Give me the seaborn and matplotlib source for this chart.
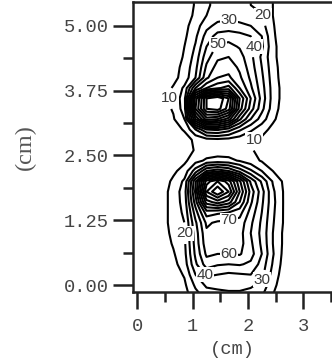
import numpy as np
import matplotlib
matplotlib.use("Agg")
import matplotlib.pyplot as plt
from matplotlib.ticker import MultipleLocator, FixedLocator
import seaborn as sns

# Measurement grid (cm)
x_cm = [0.45, 0.65, 0.85, 1.05, 1.25, 1.45, 1.65, 1.85, 2.05, 2.25, 2.45, 2.65, 2.85]
y_cm = [-0.2, 0.0, 0.2, 0.4, 0.6, 0.8, 1.0, 1.2, 1.4, 1.6, 1.8, 2.0, 2.2, 2.4,
        2.6, 2.8, 3.0, 3.2, 3.4, 3.6, 3.8, 4.0, 4.2, 4.4, 4.6, 4.8, 5.0, 5.2, 5.4, 5.6]

# Relative dose, lower lobe (rows y = -0.2 ... 2.4)
lower_field = [
    [0, 2, 6, 16, 24, 26, 27, 27, 25, 21, 10, 3, 0],
    [1, 3, 8, 22, 32, 33, 34, 34, 32, 27, 13, 4, 1],
    [2, 5, 11, 30, 42, 40, 38, 39, 40, 33, 16, 5, 1],
    [3, 7, 15, 38, 55, 51, 50, 51, 48, 36, 19, 6, 2],
    [4, 9, 17, 42, 62, 60, 60, 61, 54, 40, 21, 7, 2],
    [5, 11, 18, 44, 66, 65, 64, 64, 52, 38, 20, 8, 3],
    [5, 13, 19, 45, 68, 67, 67, 64, 50, 37, 20, 8, 3],
    [6, 14, 20, 48, 72, 68, 67, 66, 52, 38, 21, 9, 3],
    [6, 14, 22, 55, 85, 82, 80, 74, 56, 40, 22, 9, 3],
    [6, 14, 24, 65, 115, 125, 115, 90, 62, 42, 23, 9, 3],
    [6, 14, 25, 72, 140, 160, 140, 100, 66, 44, 22, 9, 3],
    [5, 12, 22, 68, 125, 140, 125, 92, 58, 38, 19, 8, 2],
    [3, 8, 14, 35, 60, 66, 60, 46, 32, 20, 10, 4, 1],
    [1, 4, 8, 16, 22, 24, 23, 19, 14, 9, 4, 1, 0],
]

# Relative dose, upper lobe (rows y = 2.6 ... 5.6)
upper_field = [
    [0, 2, 5, 11, 13, 14, 14, 13, 11, 7, 3, 1, 0],
    [1, 3, 6, 12, 16, 17, 16, 14, 11, 8, 4, 1, 0],
    [2, 6, 11, 30, 50, 52, 45, 32, 22, 14, 7, 2, 1],
    [4, 9, 20, 80, 115, 110, 95, 62, 40, 25, 12, 4, 1],
    [6, 11, 25, 110, 150, 155, 135, 85, 55, 33, 15, 5, 2],
    [6, 12, 26, 105, 150, 160, 140, 90, 60, 36, 16, 6, 2],
    [5, 11, 22, 60, 80, 88, 95, 70, 52, 34, 16, 6, 2],
    [3, 7, 14, 30, 58, 70, 72, 62, 48, 32, 15, 5, 1],
    [3, 6, 13, 27, 52, 64, 66, 58, 45, 30, 14, 5, 1],
    [2, 5, 11, 24, 46, 58, 60, 54, 43, 28, 13, 4, 1],
    [1, 4, 10, 21, 40, 52, 53, 49, 44, 32, 13, 4, 1],
    [1, 3, 8, 18, 34, 44, 46, 44, 40, 30, 12, 3, 1],
    [0, 2, 7, 15, 27, 33, 34, 32, 30, 24, 11, 3, 0],
    [0, 1, 5, 12, 20, 25, 27, 26, 25, 21, 10, 2, 0],
    [0, 1, 4, 11, 19, 22, 23, 22, 20, 16, 10, 2, 0],
    [0, 1, 4, 11, 19, 22, 23, 22, 20, 16, 10, 2, 0],
]

contour_levels = [10, 20, 30, 40, 50, 60, 70, 80, 90, 100, 110, 120, 130, 140, 150]

# Inline labels: level -> approximate positions (cm)
label_spots = {
    10: [(0.56, 3.55), (1.95, 2.74)],
    20: [(2.16, 5.12), (0.88, 0.93)],
    30: [(1.59, 5.02), (2.13, 0.19)],
    40: [(2.19, 4.63), (1.32, 0.31)],
    50: [(1.50, 4.63)],
    60: [(1.75, 0.62)],
    70: [(1.55, 1.33)],
}

x_ticks = [0, 1, 2, 3]
y_ticks = [0.0, 1.25, 2.5, 3.75, 5.0]
y_tick_labels = ["0.00", "1.25", "2.50", "3.75", "5.00"]

sns.set_style("ticks")
plt.rcParams["font.family"] = ["Liberation Sans", "DejaVu Sans"]

fig = plt.figure(figsize=(3.32, 3.62), dpi=100)
ax = fig.add_axes([133 / 332, 70 / 362, 199 / 332, 290 / 362])

Z = np.vstack([np.array(lower_field), np.array(upper_field)])
X, Y = np.meshgrid(np.array(x_cm), np.array(y_cm))
cs = ax.contour(X, Y, Z, levels=contour_levels, colors="black", linewidths=1.5)


def snap_to_level(level, px, py):
    """Closest vertex of the given level's contour to (px, py)."""
    idx = list(cs.levels).index(level)
    best, best_d = (px, py), np.inf
    for seg in cs.allsegs[idx]:
        if len(seg) == 0:
            continue
        d = (seg[:, 0] - px) ** 2 + (seg[:, 1] - py) ** 2
        k = int(np.argmin(d))
        if d[k] < best_d:
            best_d, best = d[k], (seg[k, 0], seg[k, 1])
    return best


manual_points = [snap_to_level(lev, px, py)
                 for lev, spots in label_spots.items() for px, py in spots]
labels = cs.clabel(manual=manual_points, inline=True, inline_spacing=2,
                   fmt="%d", fontsize=11, colors="#3a3a3a")
# upright labels with a white backing so crossing lines are masked
for t in labels:
    t.set_rotation(0)
    t.set_bbox(dict(facecolor="white", edgecolor="none", pad=0.3))

ax.set_xlim(-0.08, 3.52)
ax.set_ylim(-0.135, 5.46)

ax.xaxis.set_major_locator(FixedLocator(x_ticks))
ax.xaxis.set_minor_locator(MultipleLocator(0.5))
ax.yaxis.set_major_locator(FixedLocator(y_ticks))
ax.yaxis.set_minor_locator(MultipleLocator(0.625))
ax.set_xticklabels([str(t) for t in x_ticks])
ax.set_yticklabels(y_tick_labels)

ax.tick_params(axis="both", which="both", direction="out", color="#222222",
               width=1.8, labelcolor="#444444", labelsize=13.5)
ax.tick_params(axis="x", which="major", length=12, pad=7)
ax.tick_params(axis="y", which="major", length=14.5, pad=3)
ax.tick_params(axis="both", which="minor", length=7)
for lab in ax.get_xticklabels() + ax.get_yticklabels():
    lab.set_fontfamily("Liberation Mono")

for side in ("left", "bottom", "top"):
    ax.spines[side].set_linewidth(1.8)
    ax.spines[side].set_color("#222222")
ax.spines["right"].set_visible(False)

ax.set_xlabel("(cm)", fontfamily="Liberation Mono", fontsize=13.5, color="#444444")
ax.xaxis.label.set_va("center")
ax.xaxis.set_label_coords(0.5, -0.2)

ax.set_ylabel("(cm)", fontfamily="Liberation Serif", fontsize=17.5, color="#555555")
ax.yaxis.label.set_va("center")
ax.yaxis.set_label_coords(-0.54, 0.5)

fig.savefig("out.png", dpi=100)
